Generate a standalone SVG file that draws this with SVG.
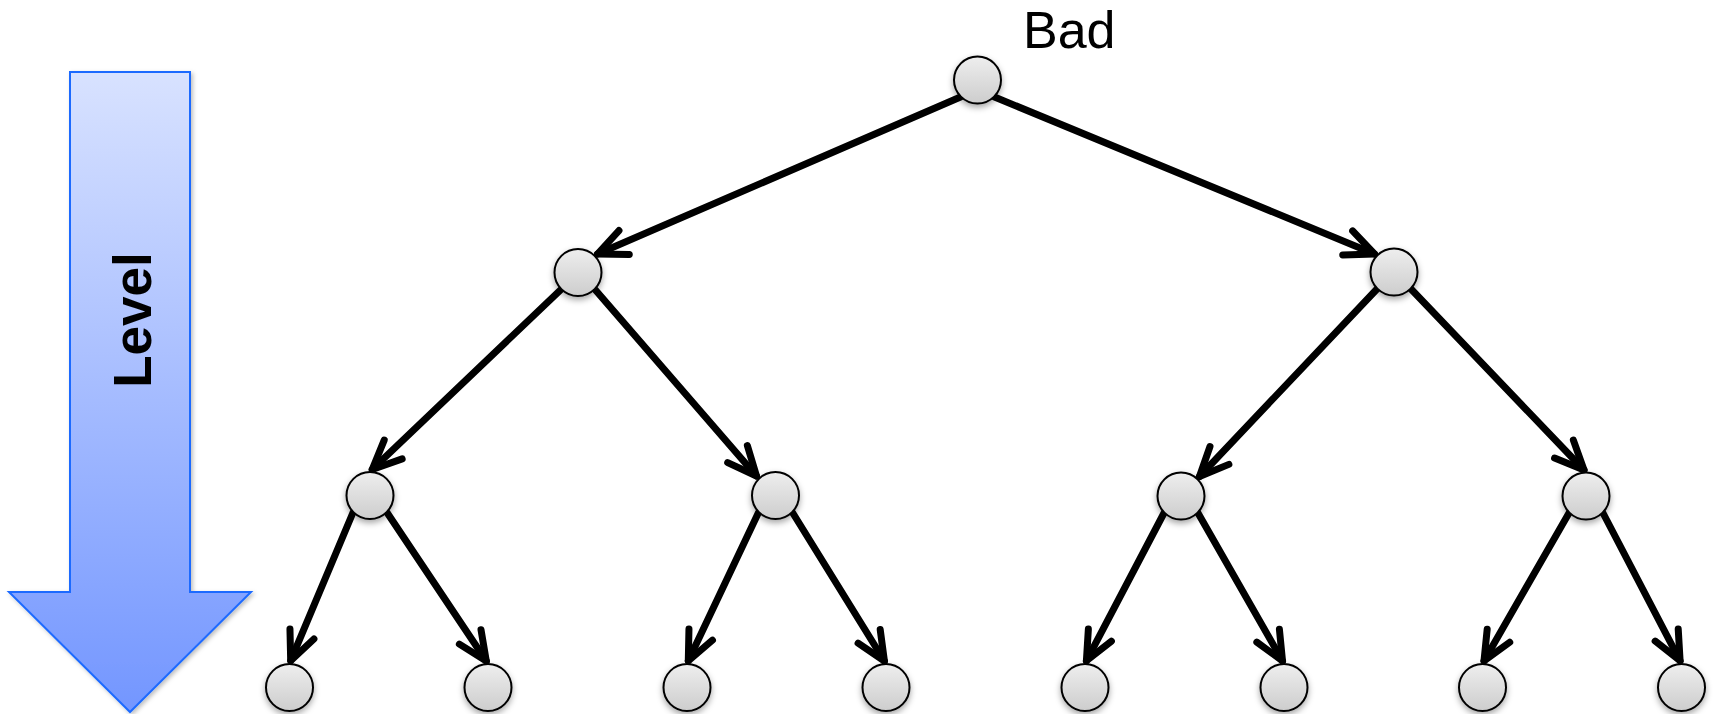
<svg xmlns="http://www.w3.org/2000/svg" width="1713" height="714" viewBox="0 0 1713 714">
  <defs>
    <linearGradient id="levelFill" x1="0" y1="72" x2="0" y2="712" gradientUnits="userSpaceOnUse">
      <stop offset="0" stop-color="#d8e2ff"/>
      <stop offset="1" stop-color="#7396ff"/>
    </linearGradient>
    <linearGradient id="nodeFill" x1="0" y1="0" x2="0" y2="1">
      <stop offset="0" stop-color="#eeeeee"/>
      <stop offset="1" stop-color="#cdcdcd"/>
    </linearGradient>
    <filter id="shadow" x="-50%" y="-50%" width="200%" height="200%">
      <feDropShadow dx="0" dy="3" stdDeviation="3" flood-color="#000" flood-opacity="0.35"/>
    </filter>
    <filter id="arrowShadow" x="-20%" y="-10%" width="140%" height="120%">
      <feDropShadow dx="2" dy="2" stdDeviation="2" flood-color="#000" flood-opacity="0.25"/>
    </filter>
    <marker id="head" markerUnits="userSpaceOnUse" viewBox="-40 -40 80 80" markerWidth="80" markerHeight="80" refX="0" refY="0" orient="auto">
      <path d="M-29,-13 L0,0 L-29,13" fill="none" stroke="#000" stroke-width="7" stroke-linecap="round" stroke-linejoin="round"/>
    </marker>
  </defs>
  <style>
    .edge { fill: none; stroke: #000; stroke-width: 7; stroke-linecap: round; marker-end: url(#head); }
    .node circle { fill: url(#nodeFill); stroke: #000; stroke-width: 2; filter: url(#shadow); }
    .label { font-family: "Liberation Sans", Arial, sans-serif; fill: #000; }
  </style>

  <rect width="1713" height="714" fill="#fff"/>

  <!-- level indicator arrow -->
  <g id="level-arrow">
    <polygon points="70,72 190,72 190,592 251,592 130,712 9,592 70,592" fill="url(#levelFill)" stroke="#1f6bff" stroke-width="2" filter="url(#arrowShadow)"/>
    <text class="label" transform="translate(151,320) rotate(-90)" x="0" y="0" text-anchor="middle" font-size="53" font-weight="bold">Level</text>
  </g>

  <text id="title" class="label" x="1023" y="48" font-size="52">Bad</text>

  <!-- connectors -->
  <g id="connectors">
    <line class="edge" x1="960.5" y1="97" x2="597.5" y2="254"/>
    <line class="edge" x1="994.5" y1="97" x2="1374.5" y2="254"/>

    <line class="edge" x1="561" y1="289.5" x2="372.2" y2="469.5"/>
    <line class="edge" x1="595" y1="289.5" x2="756.5" y2="476"/>
    <line class="edge" x1="1377" y1="289" x2="1199.5" y2="476.5"/>
    <line class="edge" x1="1411" y1="289" x2="1584" y2="470"/>

    <line class="edge" x1="353" y1="512.5" x2="290.7" y2="660.7"/>
    <line class="edge" x1="387" y1="512.5" x2="486.3" y2="661"/>
    <line class="edge" x1="758.5" y1="512.5" x2="688.3" y2="660.8"/>
    <line class="edge" x1="792.5" y1="512.5" x2="884.4" y2="661"/>
    <line class="edge" x1="1164" y1="513" x2="1086.4" y2="660.8"/>
    <line class="edge" x1="1198" y1="513" x2="1282.5" y2="660.9"/>
    <line class="edge" x1="1569" y1="513" x2="1484" y2="660.9"/>
    <line class="edge" x1="1603" y1="513" x2="1680.1" y2="660.8"/>
  </g>

  <!-- tree nodes -->
  <g id="n-root" class="node"><circle cx="977.5" cy="80" r="23.5"/></g>

  <g id="n-l" class="node"><circle cx="578" cy="272.5" r="23.5"/></g>
  <g id="n-r" class="node"><circle cx="1394" cy="272" r="23.5"/></g>

  <g id="n-ll" class="node"><circle cx="370" cy="495.5" r="23.5"/></g>
  <g id="n-lr" class="node"><circle cx="775.5" cy="495.5" r="23.5"/></g>
  <g id="n-rl" class="node"><circle cx="1181" cy="496" r="23.5"/></g>
  <g id="n-rr" class="node"><circle cx="1586" cy="496" r="23.5"/></g>

  <g id="n-lll" class="node"><circle cx="289.5" cy="687.5" r="23.5"/></g>
  <g id="n-llr" class="node"><circle cx="488" cy="687.5" r="23.5"/></g>
  <g id="n-lrl" class="node"><circle cx="687" cy="687.5" r="23.5"/></g>
  <g id="n-lrr" class="node"><circle cx="886" cy="687.5" r="23.5"/></g>
  <g id="n-rll" class="node"><circle cx="1085" cy="687.5" r="23.5"/></g>
  <g id="n-rlr" class="node"><circle cx="1284" cy="687.5" r="23.5"/></g>
  <g id="n-rrl" class="node"><circle cx="1482.5" cy="687.5" r="23.5"/></g>
  <g id="n-rrr" class="node"><circle cx="1681.5" cy="687.5" r="23.5"/></g>
</svg>
